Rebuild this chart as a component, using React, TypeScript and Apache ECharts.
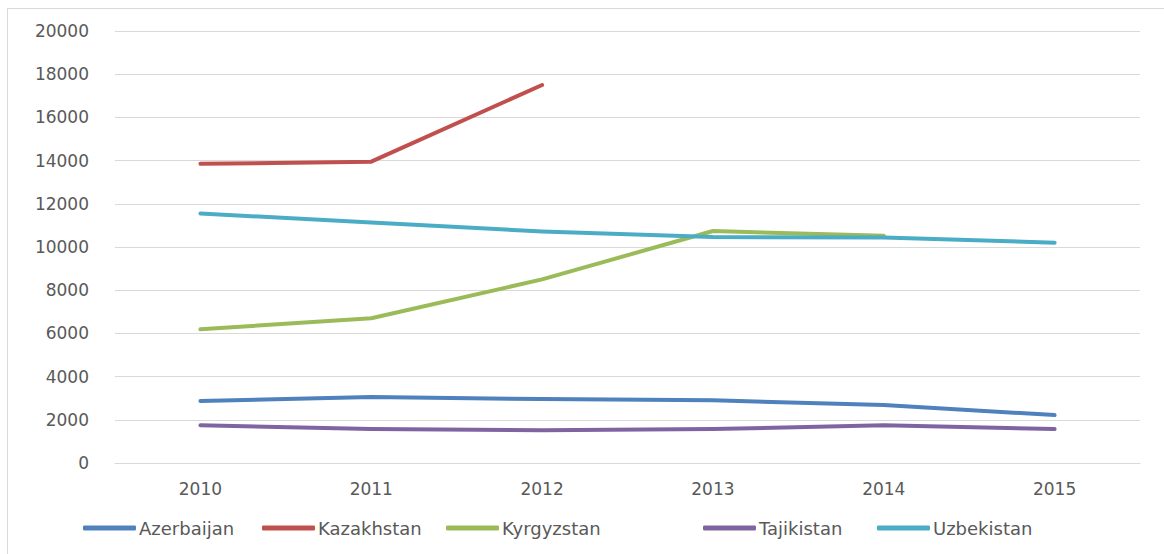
import React, { useEffect, useRef } from "react";
import * as echarts from "echarts";

const years = ["2010", "2011", "2012", "2013", "2014", "2015"];
const seriesNames = ["Azerbaijan", "Kazakhstan", "Kyrgyzstan", "Tajikistan", "Uzbekistan"];
const azerbaijan = [2870, 3050, 2960, 2900, 2680, 2220];
const kazakhstan: (number | null)[] = [13850, 13950, 17500, null, null, null];
const kyrgyzstan: (number | null)[] = [6190, 6700, 8500, 10740, 10520, null];
const tajikistan = [1750, 1570, 1520, 1570, 1750, 1570];
const uzbekistan = [11550, 11130, 10720, 10460, 10440, 10200];
const yTicks = [0, 2000, 4000, 6000, 8000, 10000, 12000, 14000, 16000, 18000, 20000];

const seriesData = [azerbaijan, kazakhstan, kyrgyzstan, tajikistan, uzbekistan];
const colors = ["#4F81BD", "#C0504D", "#9BBB59", "#8064A2", "#4BACC6"];
const legendLefts = [83, 262, 446, 703, 877];

export default function App() {
  const ref = useRef<HTMLDivElement>(null);
  useEffect(() => {
    if (!ref.current) return;
    const chart = echarts.init(ref.current, null, { renderer: "svg" });
    const font = "DejaVu Sans";
    chart.setOption({
      animation: false,
      backgroundColor: "transparent",
      color: colors,
      grid: { left: 115, right: 24, top: 31, bottom: 91, containLabel: false },
      legend: seriesNames.map((n, i) => ({
        data: [n],
        left: legendLefts[i],
        top: 519,
        icon: "roundRect",
        itemWidth: 53,
        itemHeight: 5,
        itemGap: 0,
        textStyle: { fontFamily: font, fontSize: 18, color: "#595959", padding: [0, 0, 0, -2] },
        padding: 0,
      })),
      xAxis: {
        type: "category",
        data: years,
        boundaryGap: true,
        axisLine: { show: true, lineStyle: { color: "#d9d9d9", width: 1 } },
        axisTick: { show: false },
        axisLabel: { fontFamily: font, fontSize: 17, color: "#595959", margin: 17 },
      },
      yAxis: {
        type: "value",
        min: yTicks[0],
        max: yTicks[yTicks.length - 1],
        interval: 2000,
        axisLine: { show: false },
        axisTick: { show: false },
        splitLine: { lineStyle: { color: "#d9d9d9", width: 1 } },
        axisLabel: {
          fontFamily: font,
          fontSize: 17,
          color: "#595959",
          margin: 26,
          formatter: (v: number) => String(v),
        },
      },
      series: seriesNames.map((n, i) => ({
        name: n,
        type: "line",
        data: seriesData[i],
        symbol: "none",
        connectNulls: false,
        lineStyle: { width: 4, color: colors[i], cap: "round", join: "round" },
        itemStyle: { color: colors[i] },
      })),
    });
    return () => chart.dispose();
  }, []);
  return (
    <div
      style={{
        position: "fixed",
        left: 0,
        top: 0,
        width: 1164,
        height: 554,
        background: "#fff",
        overflow: "hidden",
      }}
    >
      <div
        style={{
          position: "absolute",
          left: 7,
          top: 8,
          width: 2000,
          height: 2000,
          borderLeft: "1px solid #d9d9d9",
          borderTop: "1px solid #d9d9d9",
        }}
      />
      <div ref={ref} style={{ position: "absolute", left: 0, top: 0, width: 1164, height: 554 }} />
    </div>
  );
}
